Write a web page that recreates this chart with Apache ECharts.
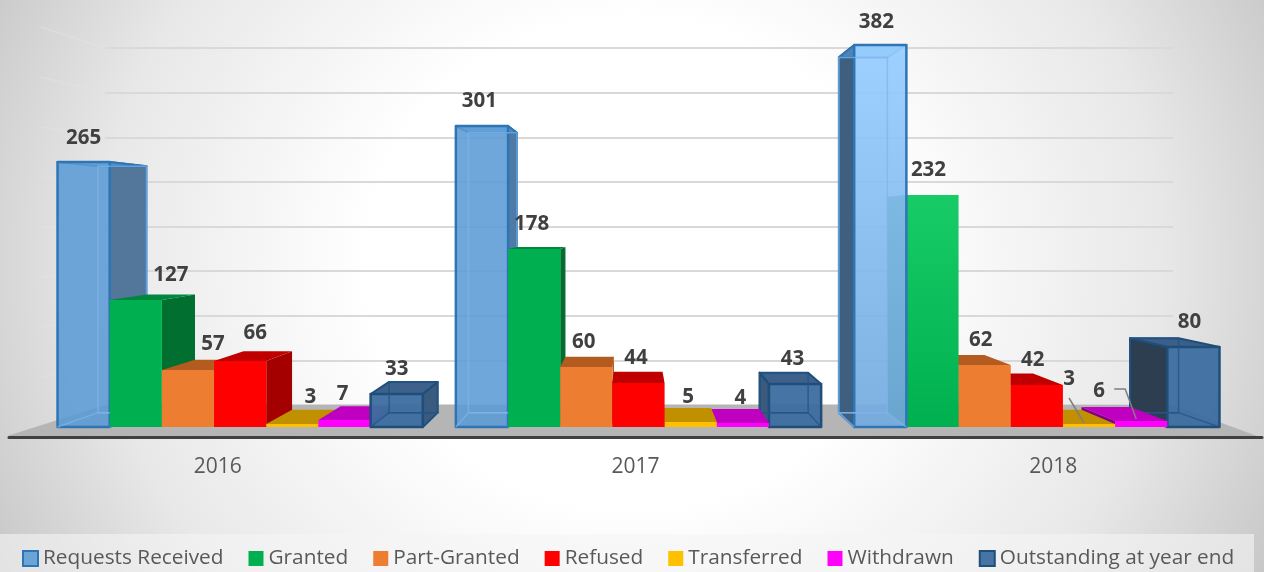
<!DOCTYPE html>
<html>
<head>
<meta charset="utf-8">
<title>Requests by year</title>
<script src="https://cdn.jsdelivr.net/npm/echarts@6/dist/echarts.min.js"></script>
<style>
  html, body { margin: 0; padding: 0; }
  #chart {
    width: 1264px; height: 572px;
    background: radial-gradient(ellipse 780px 720px at 50% 46%, #ffffff 34%, #e8e8e8 68%, #bcbcbc 100%);
  }
</style>
</head>
<body>
<div id="chart"></div>
<script>
// data
var years = ['2016', '2017', '2018'];
var requestsReceived = [265, 301, 382];
var granted = [127, 178, 232];
var partGranted = [57, 60, 62];
var refused = [66, 44, 42];
var transferred = [3, 5, 3];
var withdrawn = [7, 4, 6];
var outstanding = [33, 43, 80];
var wallTicks = [50, 100, 150, 200, 250, 300, 350, 400];

// fake 3D: each bar's back face is its front face pulled towards this point
var VP_X = 635;
var VP_Y = 222;
var DEPTH = 0.93;
var WALL_DEPTH = 0.892;
var BAR_SHARE = 0.131;

var FONT = '"Open Sans", "Noto Sans", sans-serif';

var looks = [
  { name: 'Requests Received', values: requestsReceived, front: 'rgba(91,155,213,0.88)', side: '#53769B', top: 'rgba(91,155,213,0.6)', edge: '#2E75B6', inner: 'rgba(125,180,235,0.7)', glass: true },
  { name: 'Granted', values: granted, front: '#00B050', side: '#006F2F', top: '#00873D' },
  { name: 'Part-Granted', values: partGranted, front: '#ED7D31', side: '#B45B20', top: '#B45B20' },
  { name: 'Refused', values: refused, front: '#FF0000', side: '#A50000', top: '#C00000' },
  { name: 'Transferred', values: transferred, front: '#FFC000', side: '#906C00', top: '#C09000' },
  { name: 'Withdrawn', values: withdrawn, front: '#FF00FF', side: '#800080', top: '#C000C0' },
  { name: 'Outstanding at year end', values: outstanding, front: 'rgba(60,110,160,0.95)', side: '#3A5A7E', top: 'rgba(40,80,125,0.9)', edge: '#1F4E79', inner: 'rgba(35,85,135,0.8)', glass: true }
];

// labels Excel moved by hand, offset from the middle of the bar top
var labelMoves = {
  '0-0': [0, -24], '0-1': [35, -25], '0-2': [25, -26], '0-3': [15, -28], '0-4': [18, -27], '0-5': [-2, -26],
  '2-4': [-20, -45], '2-5': [-42, -30], '2-0': [-4, -23]
};
var labelDrift = [0, -2.5, -4];

function project(x, y, k) {
  return [VP_X + k * (x - VP_X), VP_Y + k * (y - VP_Y)];
}

function face(points, fill, z2, stroke, width) {
  return {
    type: 'polygon', silent: true, z2: z2,
    shape: { points: points },
    style: { fill: fill, stroke: stroke || null, lineWidth: width || 0, lineJoin: 'round' }
  };
}

function leaderLine(points) {
  return {
    type: 'polyline', silent: true, z2: 99999,
    shape: { points: points },
    style: { fill: null, stroke: '#7F7F7F', lineWidth: 1.5 }
  };
}

function barRenderer(s) {
  var look = looks[s];
  return function (params, api) {
    var c = api.value(0);
    var v = api.value(1);
    var top = api.coord([c, v]);
    var base = api.coord([c, 0]);
    var w = api.size([1, 0])[0] * BAR_SHARE;
    var x1 = top[0] - 3.5 * w + s * w;
    var x2 = x1 + w;
    var y1 = top[1];
    var y2 = base[1];
    var cx = (x1 + x2) / 2;
    // further from the vanishing point paints first
    var order = (1000 - Math.round(Math.abs(cx - VP_X))) * 10;

    var b1 = project(x1, y1, DEPTH);
    var b2 = project(x2, y1, DEPTH);
    var b3 = project(x2, y2, DEPTH);
    var b4 = project(x1, y2, DEPTH);
    var frontPts = [[x1, y1], [x2, y1], [x2, y2], [x1, y2]];
    var sidePts = cx < VP_X ? [[x2, y1], b2, b3, [x2, y2]] : [[x1, y1], b1, b4, [x1, y2]];
    var topPts = [[x1, y1], [x2, y1], b2, b1];

    var kids = [];
    var frontFill = look.front;
    var sideFill = look.side;
    if (look.glass) {
      // box with see-through walls
      if (s === 0 && c === 2) {
        frontFill = new echarts.graphic.LinearGradient(0, 0, 0, 1, [
          { offset: 0, color: 'rgba(150,205,255,0.92)' }, { offset: 1, color: 'rgba(115,170,222,0.92)' }
        ]);
        sideFill = '#3F5F7F';
      }
      if (s === 0 && c === 1) sideFill = '#4F7AA6';
      if (s === 6 && c === 2) sideFill = '#2C3E50';
      kids.push(face(sidePts, sideFill, order + 1, look.edge, 2));
      kids.push(face(topPts, look.top, order + 2, look.edge, 2));
      kids.push(face(frontPts, frontFill, order + 3, look.edge, 2.5));
      // back edges showing through the front
      kids.push(face([b1, b2, b3, b4], 'rgba(0,0,0,0)', order + 4, look.inner, 1.5));
      kids.push({
        type: 'polyline', silent: true, z2: order + 4,
        shape: { points: [[x1, y2], b4, b3, [x2, y2]] },
        style: { fill: null, stroke: look.inner, lineWidth: 1.5 }
      });
    } else {
      if (s === 1 && c === 2) {
        frontFill = new echarts.graphic.LinearGradient(0, 0, 0, 1, [
          { offset: 0, color: '#17CC66' }, { offset: 1, color: '#00B050' }
        ]);
      }
      kids.push(face(sidePts, sideFill, order));
      kids.push(face(topPts, look.top, order + 1));
      kids.push(face(frontPts, frontFill, order + 2));
    }

    var move = labelMoves[c + '-' + s] || [labelDrift[c], -25];
    var lx = cx + move[0];
    var ly = y1 + move[1];
    kids.push({
      type: 'text', silent: true, z2: 100000,
      style: {
        x: lx, y: ly, text: String(v), fill: '#404040',
        font: 'bold 20.5px ' + FONT, align: 'center', verticalAlign: 'middle'
      }
    });
    if (c === 2 && s === 4) kids.push(leaderLine([[lx, ly + 19], [cx - 5, y1 - 1]]));
    if (c === 2 && s === 5) kids.push(leaderLine([[lx + 15, ly - 2], [lx + 26, ly - 2], [cx - 5, y1 - 2]]));

    return { type: 'group', children: kids };
  };
}

// faint lines running from the back wall down the left side wall
function sideWallRenderer(params, api) {
  var p = api.coord([0, api.value(0)]);
  var front = project(p[0], p[1], 1 / WALL_DEPTH);
  return {
    type: 'line', silent: true,
    shape: { x1: p[0], y1: p[1], x2: front[0], y2: front[1] },
    style: { stroke: 'rgba(228,228,228,0.4)', lineWidth: 2 }
  };
}

var barSeries = looks.map(function (look, s) {
  return {
    type: 'custom',
    name: look.name,
    xAxisIndex: 0,
    yAxisIndex: 0,
    z: 5,
    renderItem: barRenderer(s),
    encode: { x: 0, y: 1 },
    itemStyle: look.glass
      ? { color: look.front, borderColor: look.edge, borderWidth: 2 }
      : { color: look.front },
    data: look.values.map(function (v, i) { return [i, v]; })
  };
});

var myChart = echarts.init(document.getElementById('chart'));

var option = {
  animation: false,
  backgroundColor: 'transparent',
  grid: [
    { left: 41, width: 1195, top: 27, bottom: 145 },    // bars
    { left: 9, width: 1253, top: 27, bottom: 135 },     // front edge with the years
    { left: 105, right: 91, top: 48, bottom: 167 }      // back wall
  ],
  xAxis: [
    { type: 'category', gridIndex: 0, data: years, show: false },
    {
      type: 'category', gridIndex: 1, data: years,
      axisTick: { show: false },
      axisLine: { lineStyle: { color: '#404040', width: 3, cap: 'round' } },
      axisLabel: { color: '#595959', fontSize: 21, fontFamily: FONT, margin: 20 }
    },
    { type: 'value', gridIndex: 2, min: 0, max: 1, show: false }
  ],
  yAxis: [
    { type: 'value', gridIndex: 0, min: 0, max: 400, show: false },
    { type: 'value', gridIndex: 1, min: 0, max: 400, show: false },
    {
      type: 'value', gridIndex: 2, min: 0, max: 400, interval: 50,
      axisLine: { show: false }, axisTick: { show: false }, axisLabel: { show: false },
      splitLine: { lineStyle: { color: '#D9D9D9', width: 2 } }
    }
  ],
  legend: {
    left: 22,
    top: 548,
    padding: 0,
    icon: 'rect',
    itemWidth: 15,
    itemHeight: 15,
    itemGap: 25,
    selectedMode: false,
    textStyle: { color: '#595959', fontSize: 20.8, fontFamily: FONT },
    data: looks.map(function (l) { return l.name; })
  },
  graphic: [
    // floor and legend band are plain decoration
    { type: 'polygon', z: 1, silent: true, shape: { points: [[105, 405], [1173, 405], [1257, 436], [7, 436]] }, style: { fill: '#B5B5B5' } },
    { type: 'rect', z: 1, silent: true, shape: { x: 0, y: 534, width: 1254, height: 38 }, style: { fill: 'rgba(245,245,245,0.6)' } }
  ],
  series: [{
    type: 'custom',
    xAxisIndex: 2,
    yAxisIndex: 2,
    z: 0,
    renderItem: sideWallRenderer,
    encode: { y: 0 },
    data: wallTicks.map(function (t) { return [t]; })
  }].concat(barSeries)
};

myChart.setOption(option);
</script>
</body>
</html>
